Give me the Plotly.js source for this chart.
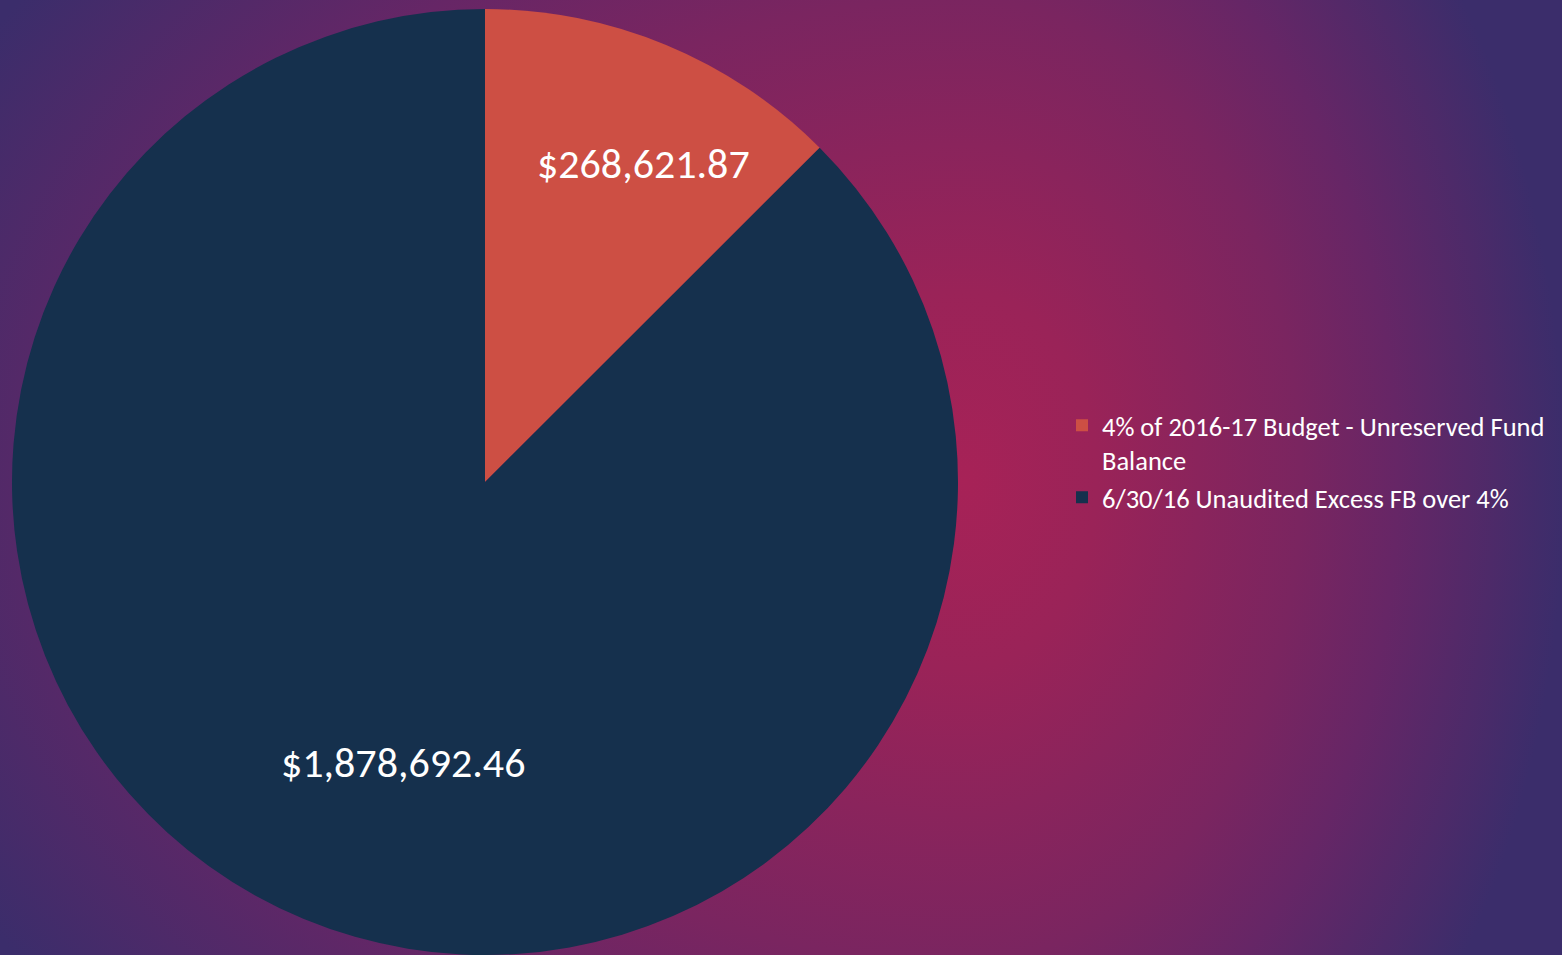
<!DOCTYPE html>
<html>
<head>
<meta charset="utf-8">
<script src="https://cdn.plot.ly/plotly-3.0.1.min.js"></script>
<style>
  html, body { margin: 0; padding: 0; width: 1562px; height: 955px; overflow: hidden; background: #3a2d6b; }
  #bgL { position: absolute; left: 0; top: 0; width: 965px; height: 955px;
    background: radial-gradient(1140px 860px at 965px 480px, #a72257 0%, #9a2358 22%, #7a2560 56%, #662666 72%, #3b2d6b 100%); }
  #bgR { position: absolute; left: 965px; top: 0; width: 597px; height: 955px;
    background: radial-gradient(600px 860px at 0px 480px, #a72257 0%, #9a2358 22%, #7a2560 56%, #662666 72%, #3b2d6b 100%); }
  #chart { position: absolute; left: 0; top: 0; width: 1562px; height: 955px; }
</style>
</head>
<body>
<div id="bgL"></div>
<div id="bgR"></div>
<div id="chart"></div>
<script>
const labels = [
  '4% of 2016-17 Budget - Unreserved Fund<br>Balance',
  '6/30/16 Unaudited Excess FB over 4%'
];
const values = [268621.87, 1878692.46];
const colors = ['#cd4f44', '#15304d'];

const FONT = 'Carlito, Lato, "Open Sans", sans-serif';

const fmt = v => '$' + v.toLocaleString('en-US', { minimumFractionDigits: 2, maximumFractionDigits: 2 });

const trace = {
  type: 'pie',
  labels: labels,
  values: values,
  sort: false,
  direction: 'clockwise',
  rotation: 0,
  marker: { colors: colors, line: { width: 0 } },
  textinfo: 'none',
  hoverinfo: 'label+value',
  domain: { x: [12 / 1562, 958 / 1562], y: [0, 1] }
};

// label placement (paper coords) for each slice's value text
const labelPos = [[0.4117, 0.8372], [0.258, 0.204]];

const layout = {
  width: 1562,
  height: 955,
  margin: { l: 0, r: 0, t: 9, b: 0 },
  paper_bgcolor: 'rgba(0,0,0,0)',
  plot_bgcolor: 'rgba(0,0,0,0)',
  showlegend: true,
  legend: {
    x: 1062 / 1562,
    xanchor: 'left',
    y: 0.585,
    yanchor: 'top',
    valign: 'top',
    font: { family: FONT, size: 26.5, color: '#ffffff' },
    bgcolor: 'rgba(0,0,0,0)',
    itemwidth: 30
  },
  annotations: values.map((v, i) => ({
    xref: 'paper', yref: 'paper',
    x: labelPos[i][0], y: labelPos[i][1],
    xanchor: 'center', yanchor: 'middle',
    text: fmt(v),
    showarrow: false,
    font: { family: FONT, size: 42, color: '#ffffff' }
  }))
};

Plotly.newPlot('chart', [trace], layout, { displayModeBar: false, staticPlot: true });
</script>
</body>
</html>
